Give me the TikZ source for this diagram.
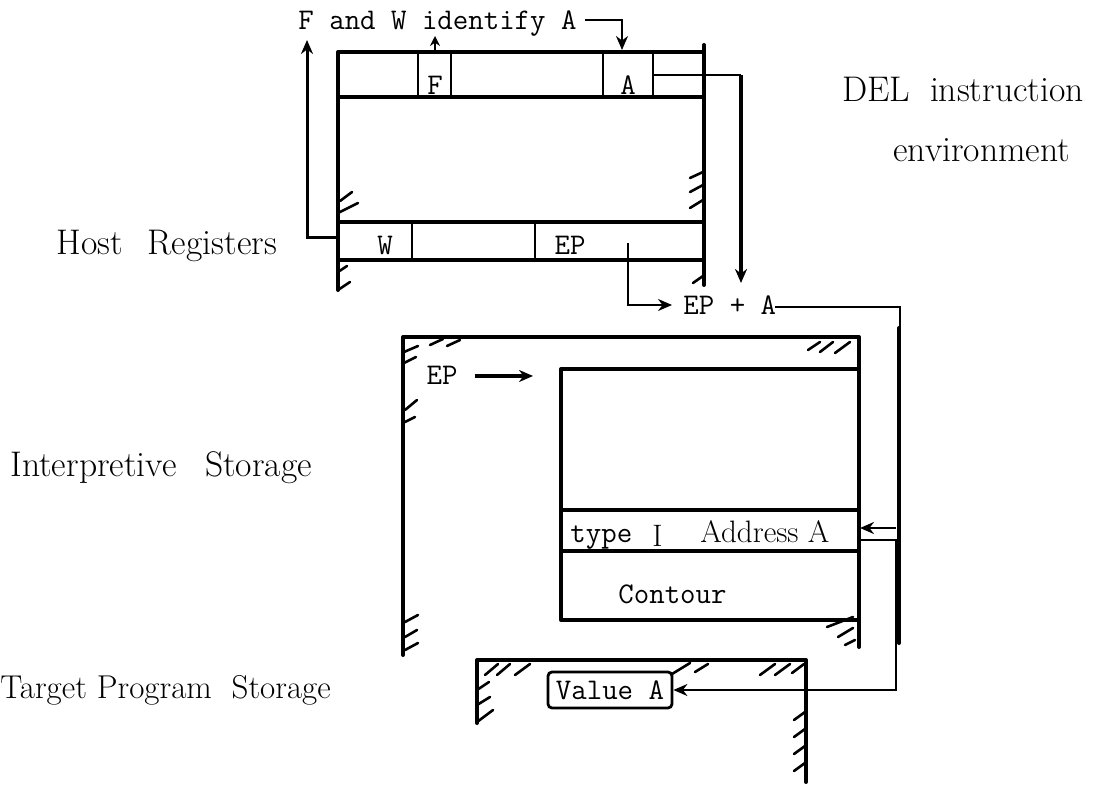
\documentclass[tikz,border=0pt]{standalone}
\usetikzlibrary{arrows.meta}
\begin{document}
\begin{tikzpicture}[x=0.5pt,y=-0.5pt,
  wall/.style={line width=2pt, line cap=round, line join=round},
  cellline/.style={line width=1.3pt},
  conn/.style={line width=1pt},
  hatch/.style={line width=1.3pt, line cap=round},
  tip/.style={-{Stealth[length=7pt,width=6pt]}},
  smalltip/.style={-{Stealth[length=5pt,width=5pt]}},
  tt/.style={font=\fontsize{15}{18}\selectfont\ttfamily, inner sep=0pt, anchor=base west},
  ttc/.style={font=\fontsize{15}{18}\selectfont\ttfamily, inner sep=0pt, anchor=base},
  rm/.style={font=\fontsize{17.8}{21}\selectfont\rmfamily, inner sep=0pt, anchor=base west},
  rmsmall/.style={font=\fontsize{15.5}{19}\selectfont\rmfamily, inner sep=0pt, anchor=base west}]
\useasboundingbox (0,0) rectangle (1112,785);

% ---------- texts ----------
\node[tt] (fw) at (298,30) {F and W identify A};
\node[ttc] (lF) at (435,95) {F};
\node[ttc] (lA) at (628,95) {A};
\node[ttc] (lW) at (385,255) {W};
\node[ttc] (lEP) at (570,255) {EP};
\node[tt] (epa) at (683,315) {EP + A};
\node[ttc] (ep2) at (442,385) {EP};
\node[tt] (type) at (570,542) {type};
\node[rmsmall] (typeI) at (652,546) {I};
\node[rmsmall] (addr) at (700,542) {Address A};
\node[tt] (cont) at (618,603) {Contour};
\node[font=\fontsize{15}{18}\selectfont\ttfamily, draw, line width=1.4pt, rounded corners=2pt,
      inner sep=0pt, minimum width=62pt, minimum height=18pt] (val) at (610,690) {Value A};

\node[rm] (host) at (56,255) {Host\hspace{0.7em}Registers};
\node[rm] (interp) at (10,476) {Interpretive\hspace{0.8em}Storage};
\node[rm, font=\fontsize{16.5}{19}\selectfont\rmfamily] (target) at (0,698) {Target Program\hspace{0.6em}Storage};
\node[rm] (del) at (842,102) {DEL\hspace{0.55em}instruction};
\node[rm] (env) at (893,162) {environment};

% ---------- host register box ----------
\draw[wall] (338,290) -- (338,52) -- (704,52);
\draw[wall] (704,45) -- (704,285);
\draw[wall] (338,97) -- (704,97);
\draw[cellline] (418,52) -- (418,97) (451,52) -- (451,97)
                (603,52) -- (603,97) (653,52) -- (653,97);
\draw[wall] (338,222) -- (704,222) (338,260) -- (704,260);
\draw[cellline] (412,222) -- (412,260) (535,222) -- (535,260);

% ---------- interpretive storage ----------
\draw[wall] (403,655) -- (403,337) -- (859,337) -- (859,647);
\draw[wall] (859,369) -- (561,369) -- (561,620) -- (859,620);
\draw[wall] (561,510) -- (859,510) (561,551) -- (859,551);

% ---------- target program storage ----------
\draw[wall] (477,723) -- (477,660) -- (806,660) -- (806,782);

% ---------- hatching ----------
\foreach \a/\b/\c/\d in {
  338/213/358/203, 340/201/352/192, 338/272/347/266, 338/290/350/282,
  690/178/703/172, 690/192/703/185, 690/208/703/200, 693/283/703/276,
  430/345/443/339, 447/346/460/340, 404/352/418/346, 404/363/416/357,
  405/410/417/400, 405/422/415/417, 405/622/418/615, 405/637/417/630,
  405/650/418/643, 808/350/820/342, 820/352/833/342, 835/353/850/342,
  827/627/853/617, 838/637/853/628, 845/645/855/640,
  485/675/498/664, 497/675/510/664, 515/675/530/664,
  672/674/690/663, 695/672/708/664,
  760/675/775/664, 775/675/790/664, 792/673/804/664,
  477/690/489/682, 477/705/490/697, 477/722/493/710,
  794/720/805/712, 794/737/805/729, 794/754/805/746, 794/771/805/763}
  \draw[hatch] (\a,\b) -- (\c,\d);

% ---------- connectors ----------
\coordinate (fwend) at (585,20);
\coordinate (atop) at (622,50);
\draw[conn,tip] (fwend) -| (atop);

\coordinate (ftop) at (435,52);
\coordinate (fup) at (435,36);
\draw[conn,smalltip] (ftop) -- (fup);

\coordinate (wleft) at (338,238);
\coordinate (wup) at (307,40);
\draw[line width=1.5pt,tip] (wleft) -| (wup);

\coordinate (delout) at (653,75);
\coordinate (delturn) at (741,75);
\coordinate (deldown) at (741,283);
\draw[conn] (delout) -- (delturn);
\draw[line width=2pt,tip] (delturn) -- (deldown);

\coordinate (epout) at (628,243);
\coordinate (epin) at (672,305);
\draw[conn,tip] (epout) |- (epin);

\coordinate (epaend) at (775,307);
\coordinate (rc1) at (900,307);
\coordinate (rc2) at (900,330);
\draw[conn] (epaend) -- (rc1) -- (rc2);
\coordinate (rt1) at (899,328);
\coordinate (rt2) at (899,643);
\draw[wall] (rt1) -- (rt2);
\coordinate (adin) at (860,528);
\coordinate (adfrom) at (896,528);
\draw[conn,tip] (adfrom) -- (adin);
\coordinate (adout) at (860,540);
\draw[conn,tip] (adout) -- (896,540) -- (896,690) -- (val.east);

\coordinate (eparrs) at (475,376);
\coordinate (eparre) at (533,376);
\draw[line width=2pt,tip] (eparrs) -- (eparre);
\end{tikzpicture}
\end{document}
